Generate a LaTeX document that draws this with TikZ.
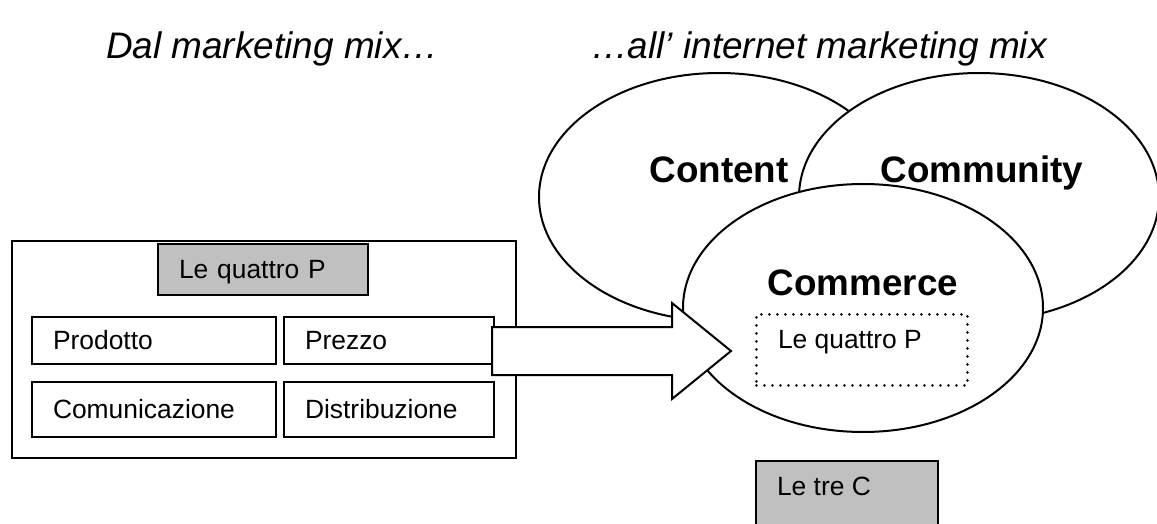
\documentclass[tikz,border=0pt]{standalone}
\usepackage{fontspec}
\setmainfont{Liberation Sans}
\usetikzlibrary{positioning}
\usetikzlibrary{shapes.geometric}
\definecolor{boxgray}{HTML}{C0C0C0}
\tikzset{
mix text/.style={font=\fontsize{19.8}{24}\selectfont,text height=14.2pt,text depth=0pt},
p box/.style={draw,rectangle,mix text,anchor=north west,outer sep=0pt,inner xsep=15.75pt,inner ysep=0pt,align=left},
gray box/.style={p box,fill=boxgray},
c shape/.style={draw,ellipse,fill=white,minimum width=270pt,minimum height=186pt,inner sep=0pt},
c label/.style={font=\bfseries\fontsize{27.6}{33}\selectfont,anchor=base,inner sep=0pt},
mix title/.style={font=\itshape\fontsize{27.7}{33}\selectfont,anchor=base west,inner sep=0pt},
dotted box/.style={draw,line width=2.2pt,dash pattern=on 0pt off 6pt,line cap=round,minimum width=158.25pt,minimum height=53.25pt,anchor=north west,inner sep=0pt},
}
\begin{document}
\begin{tikzpicture}[x=0.75pt,y=-0.75pt,line width=1.5pt]
\useasboundingbox (0,0) rectangle (1157,524);
% titles
\node[mix title] (from) at (105,59) {Dal marketing mix…};
\node[mix title] (to) at (590,59) {…all’ internet marketing mix};
% the four P
\node[draw,anchor=north west,minimum width=378pt,minimum height=162.75pt,inner sep=0pt] (pframe) at (11,240) {};
\node[gray box,text width=126pt,minimum height=38.25pt] (fourp) at (158,244) {Le quattro P};
\node[p box,text width=151.5pt,minimum height=35.25pt] (prodotto) at (32,317) {Prodotto};
\node[p box,text width=126pt,minimum height=35.25pt,right=6pt of prodotto] (prezzo) {Prezzo};
\node[p box,text width=151.5pt,minimum height=41.25pt,below=13.5pt of prodotto] (comunicazione) {Comunicazione};
\node[p box,text width=126pt,minimum height=41.25pt,right=6pt of comunicazione] (distribuzione) {Distribuzione};
% the three C
\node[c shape] (content) at (719,197) {};
\node[c shape] (community) at (979,197) {};
\node[c shape] (commerce) at (863,308) {};
\node[c label] (contentlbl) at (719,183) {Content};
\node[c label] (communitylbl) at (982,183) {Community};
\node[c label] (commercelbl) at (863,295) {Commerce};
\node[dotted box] (inner) at (755,313) {};
\node[mix text,anchor=base west,inner sep=0pt] (innerlbl) at (777,348) {Le quattro P};
% block arrow
\filldraw[fill=white] (492,327) -- (672,327) -- (672,303) -- (731,351) -- (672,399) -- (672,375) -- (492,375) -- cycle;
\node[draw,fill=boxgray,anchor=north west,minimum width=136.5pt,minimum height=62pt,inner sep=0pt] (trec) at (755,460) {};
\node[mix text,anchor=base west,inner sep=0pt] (treclbl) at (776,495) {Le tre C};
\end{tikzpicture}
\end{document}
